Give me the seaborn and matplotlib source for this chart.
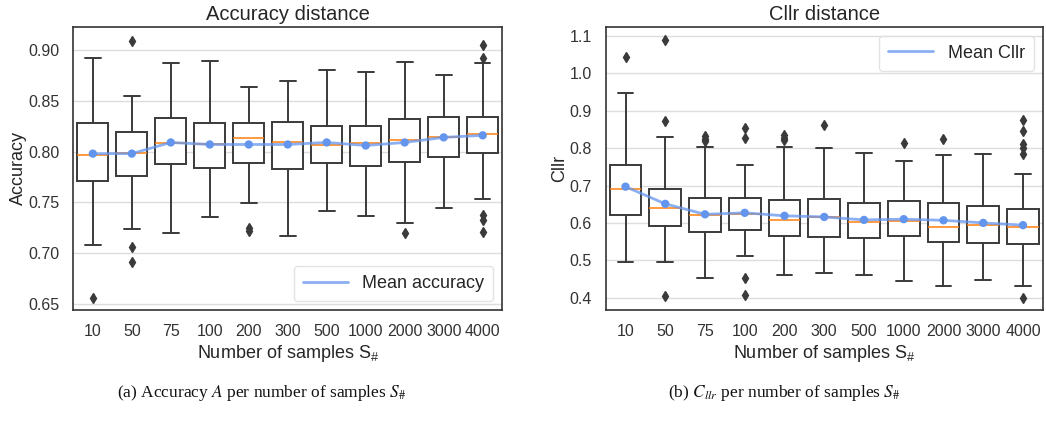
import matplotlib
matplotlib.use('Agg')  # Server-side rendering
import matplotlib.pyplot as plt
import seaborn as sns
import numpy as np
import pandas as pd

# Categories
samples = ['10', '50', '75', '100', '200', '300', '500', '1000', '2000', '3000', '4000']

# Accuracy distance (box stats)
acc_whislo = [0.708, 0.724, 0.720, 0.736, 0.749, 0.717, 0.741, 0.737, 0.730, 0.744, 0.753]
acc_q1 = [0.771, 0.776, 0.788, 0.784, 0.789, 0.783, 0.789, 0.786, 0.790, 0.795, 0.799]
acc_med = [0.797, 0.799, 0.808, 0.807, 0.813, 0.809, 0.806, 0.808, 0.811, 0.814, 0.817]
acc_q3 = [0.828, 0.819, 0.833, 0.828, 0.828, 0.829, 0.825, 0.825, 0.832, 0.834, 0.834]
acc_whishi = [0.892, 0.855, 0.887, 0.889, 0.864, 0.870, 0.880, 0.878, 0.888, 0.875, 0.887]
acc_mean = [0.798, 0.798, 0.809, 0.807, 0.807, 0.807, 0.809, 0.806, 0.809, 0.814, 0.816]
acc_fliers = [[0.656], [0.909, 0.706, 0.691], [], [], [0.725, 0.722], [], [], [],
              [0.720], [], [0.905, 0.892, 0.738, 0.733, 0.721]]

# Cllr distance
cllr_whislo = [0.496, 0.496, 0.453, 0.511, 0.460, 0.467, 0.460, 0.445, 0.431, 0.447, 0.431]
cllr_q1 = [0.620, 0.593, 0.576, 0.581, 0.566, 0.563, 0.560, 0.566, 0.548, 0.545, 0.543]
cllr_med = [0.691, 0.639, 0.621, 0.624, 0.608, 0.617, 0.602, 0.605, 0.590, 0.594, 0.590]
cllr_q3 = [0.755, 0.691, 0.667, 0.667, 0.662, 0.665, 0.653, 0.658, 0.653, 0.646, 0.636]
cllr_whishi = [0.947, 0.831, 0.804, 0.754, 0.804, 0.800, 0.788, 0.766, 0.781, 0.785, 0.730]
cllr_mean = [0.697, 0.651, 0.623, 0.627, 0.619, 0.616, 0.608, 0.610, 0.607, 0.600, 0.594]
cllr_fliers = [[1.045], [1.089, 0.874, 0.404], [0.832, 0.825, 0.818], [0.855, 0.828, 0.452, 0.406],
               [0.835, 0.828, 0.821], [0.862], [], [0.813], [0.824], [],
               [0.875, 0.845, 0.812, 0.800, 0.785, 0.400]]

sns.set_theme(style='whitegrid')
plt.rcParams['font.family'] = ['Liberation Sans', 'DejaVu Sans']
plt.rcParams['axes.edgecolor'] = '#333333'
plt.rcParams['axes.linewidth'] = 1.2
plt.rcParams['grid.color'] = '#dddddd'

mean_color = '#6495ED'
box_color = '#3a3a3a'


def draw_panel(ax, whislo, q1, med, q3, whishi, fliers, mean, title, ylabel, mean_label, legend_loc):
    stats = []
    for i in range(len(samples)):
        stats.append({'whislo': whislo[i], 'q1': q1[i], 'med': med[i], 'q3': q3[i],
                      'whishi': whishi[i], 'fliers': fliers[i], 'label': samples[i]})
    ax.bxp(stats, positions=np.arange(len(samples)), widths=0.8, showfliers=True,
           patch_artist=True,
           boxprops=dict(facecolor='white', edgecolor=box_color, linewidth=1.4),
           whiskerprops=dict(color=box_color, linewidth=1.4),
           capprops=dict(color=box_color, linewidth=1.4),
           medianprops=dict(color='#ff7f0e', linewidth=1.3, alpha=0.85),
           flierprops=dict(marker='d', markerfacecolor=box_color, markeredgecolor=box_color,
                           markersize=5))

    df = pd.DataFrame({'pos': np.arange(len(samples)), 'mean': mean})
    sns.lineplot(data=df, x='pos', y='mean', ax=ax, color=mean_color, linewidth=2,
                 alpha=0.75, label=mean_label, zorder=5)
    sns.scatterplot(data=df, x='pos', y='mean', ax=ax, color=mean_color, s=36,
                    edgecolor='none', zorder=6, legend=False)

    ax.set_xlim(-0.5, len(samples) - 0.5)
    ax.set_xticks(np.arange(len(samples)))
    ax.set_xticklabels(samples)
    ax.xaxis.grid(False)
    ax.tick_params(axis='both', labelsize=11.5, colors='#333333', pad=4)
    ax.set_title(title, fontsize=14.5, pad=5)
    ax.set_xlabel(r'Number of samples $\mathregular{S_\#}$', fontsize=13, labelpad=3)
    ax.set_ylabel(ylabel, fontsize=13, labelpad=1)
    leg = ax.legend(loc=legend_loc, fontsize=13, handlelength=2.5, borderpad=0.5)
    leg.get_frame().set_edgecolor('#dddddd')


fig = plt.figure(figsize=(10.46, 4.25), dpi=100)
ax1 = fig.add_axes([0.0701, 0.2706, 0.410, 0.6666])
ax2 = fig.add_axes([0.579, 0.2706, 0.418, 0.6666])

draw_panel(ax1, acc_whislo, acc_q1, acc_med, acc_q3, acc_whishi, acc_fliers, acc_mean,
           'Accuracy distance', 'Accuracy', 'Mean accuracy', 'lower right')
ax1.set_ylim(0.644, 0.923)
ax1.set_yticks([0.65, 0.70, 0.75, 0.80, 0.85, 0.90])
ax1.set_yticklabels(['0.65', '0.70', '0.75', '0.80', '0.85', '0.90'])

draw_panel(ax2, cllr_whislo, cllr_q1, cllr_med, cllr_q3, cllr_whishi, cllr_fliers, cllr_mean,
           'Cllr distance', 'Cllr', 'Mean Cllr', 'upper right')
ax2.set_ylim(0.367, 1.125)
ax2.set_yticks([0.4, 0.5, 0.6, 0.7, 0.8, 0.9, 1.0, 1.1])
ax2.set_yticklabels(['0.4', '0.5', '0.6', '0.7', '0.8', '0.9', '1.0', '1.1'])

# Sub-captions
fig.text(0.25, 0.075, r'(a) Accuracy $A$ per number of samples $S_\#$', ha='center', va='center',
         fontsize=12.5, family=['Liberation Serif'], math_fontfamily='stix', color='#111111')
fig.text(0.75, 0.075, r'(b) $C_{llr}$ per number of samples $S_\#$', ha='center', va='center',
         fontsize=12.5, family=['Liberation Serif'], math_fontfamily='stix', color='#111111')

plt.savefig('out.png', dpi=100, facecolor='white')
plt.close()
